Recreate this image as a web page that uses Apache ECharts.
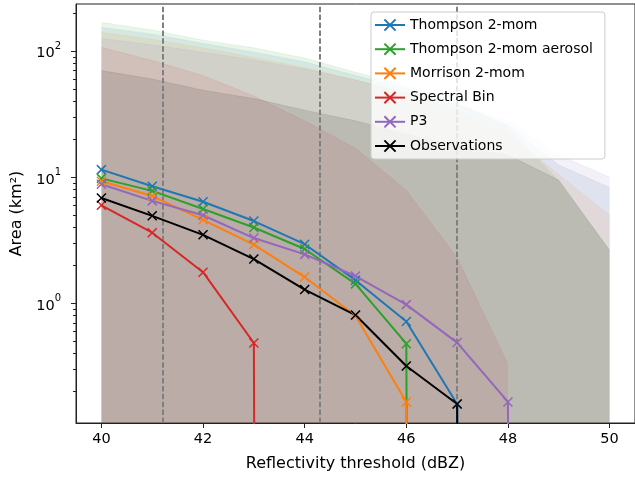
<!DOCTYPE html>
<html>
<head>
<meta charset="utf-8">
<script src="https://cdn.jsdelivr.net/npm/echarts@6/dist/echarts.min.js"></script>
<style>
  html, body { margin: 0; padding: 0; background: #fff; }
  #chart { width: 635px; height: 477px; }
</style>
</head>
<body>
<div id="chart"></div>
<script>
// Reflectivity thresholds (dBZ)
const thresholds = [40, 41, 42, 43, 44, 45, 46, 47, 48, 49, 50];
const xTicks = [40, 42, 44, 46, 48, 50];
const yMajorTicks = [1, 10, 100];
const yMinorTicks = [0.2, 0.3, 0.4, 0.5, 0.6, 0.7, 0.8, 0.9,
                     2, 3, 4, 5, 6, 7, 8, 9,
                     20, 30, 40, 50, 60, 70, 80, 90, 200];
// Vertical reference thresholds (dBZ)
const refLines = [41.2, 44.3, 47.0];

const seriesNames = ['Thompson 2-mom', 'Thompson 2-mom aerosol', 'Morrison 2-mom',
                     'Spectral Bin', 'P3', 'Observations'];
const seriesColors = ['#1f77b4', '#2ca02c', '#ff7f0e', '#d62728', '#9467bd', '#000000'];

// Mean area above threshold (km²)
const thompson        = [11.5, 8.5, 6.4, 4.5, 2.95, 1.53, 0.72, 0.16, 0, 0, 0];
const thompsonAerosol = [9.8, 7.8, 5.6, 4.0, 2.7, 1.43, 0.48, 0, 0, 0, 0];
const morrison        = [9.3, 7.1, 4.6, 2.93, 1.62, 0.8, 0.166, 0, 0, 0, 0];
const spectralBin     = [6.0, 3.64, 1.77, 0.486, 0, 0, 0, 0, 0, 0, 0];
const p3              = [8.8, 6.5, 5.0, 3.3, 2.45, 1.65, 0.98, 0.49, 0.166, 0, 0];
const observations    = [6.85, 4.95, 3.5, 2.25, 1.29, 0.81, 0.32, 0.16, 0, 0, 0];

// Upper envelope of each ensemble (km²)
const thompsonMax        = [154, 136, 115, 98, 82, 64, 50, 38, 26, 12.5, 8.3];
const thompsonAerosolMax = [169, 147, 122, 106, 88, 68, 53, 40, 25, 9.3, 2.6];
const morrisonMax        = [141, 124, 106, 89, 74, 59, 46, 34, 22, 10.5, 5.0];
const spectralBinMax     = [107, 84, 64, 44, 28, 17, 7.9, 2.3, 0.33];
const p3Max              = [126, 112, 98, 85, 72, 59, 47, 37, 28, 15, 10];
const observationsMax    = [70, 60, 49, 42, 34, 28, 22, 17.5, 15, 9.5, 2.65];

const means = [thompson, thompsonAerosol, morrison, spectralBin, p3, observations];
const envelopes = [thompsonMax, thompsonAerosolMax, morrisonMax, spectralBinMax, p3Max, observationsMax];

// Zero area cannot sit on a log axis: push it far below the visible range
// so the curve drops straight down, as a clipped log plot does.
const LOG_FLOOR = 1e-100;
const pairs = (vals) => vals.map((v, i) => [thresholds[i], v > 0 ? v : LOG_FLOOR]);

const Y_MIN = 0.113, Y_MAX = 236;
const FONT = 'DejaVu Sans';
const FILL_ALPHA = 0.1;

const series = [];

envelopes.forEach((vals, k) => {
  series.push({
    name: seriesNames[k] + ' range',
    type: 'line',
    data: pairs(vals),
    symbol: 'none',
    silent: true,
    z: 1,
    lineStyle: { width: 0.8, color: seriesColors[k], opacity: FILL_ALPHA },
    areaStyle: { color: seriesColors[k], opacity: FILL_ALPHA, origin: 'start' },
    animation: false
  });
});

means.forEach((vals, k) => {
  const s = {
    name: seriesNames[k],
    type: 'line',
    data: pairs(vals),
    symbol: 'path://M0,0L10,10M10,0L0,10',
    symbolSize: 9,
    showAllSymbol: true,
    z: 3,
    lineStyle: { width: 2, color: seriesColors[k] },
    itemStyle: { color: seriesColors[k], borderColor: seriesColors[k], borderWidth: 1.5 },
    emphasis: { disabled: true },
    animation: false
  };
  if (k === 0) {
    s.markLine = {
      silent: true,
      symbol: 'none',
      z: 2,
      label: { show: false },
      lineStyle: { color: '#808080', type: [5.5, 2.4], width: 2 },
      data: refLines.map(v => ({ xAxis: v })),
      animation: false
    };
  }
  series.push(s);
});

const supLabel = (v) => {
  const e = Math.round(Math.log10(v));
  return '{b|10}{s|' + e + '}';
};

const option = {
  backgroundColor: '#ffffff',
  animation: false,
  textStyle: { fontFamily: FONT },
  grid: {
    left: 76, right: -7, top: 4, bottom: 50,
    show: true, borderColor: '#222', borderWidth: 1, backgroundColor: 'transparent'
  },
  legend: {
    data: seriesNames,
    orient: 'vertical',
    left: 371, top: 12,
    width: 262,
    itemWidth: 30, itemHeight: 14, itemGap: 10.2,
    padding: [6, 12, 6, 3],
    backgroundColor: 'rgba(255,255,255,0.8)',
    borderColor: '#cccccc', borderWidth: 1, borderRadius: 3,
    textStyle: { fontFamily: FONT, fontSize: 14, color: '#000' },
    selectedMode: false
  },
  xAxis: {
    type: 'value',
    min: 39.5, max: 50.5,
    name: 'Reflectivity threshold (dBZ)',
    nameLocation: 'middle', nameGap: 33,
    nameTextStyle: { fontFamily: FONT, fontSize: 16, color: '#000' },
    axisLine: { show: true, onZero: false, lineStyle: { color: '#222', width: 1 } },
    axisTick: { show: true, length: 5, customValues: xTicks, lineStyle: { color: '#222' } },
    axisLabel: { customValues: xTicks, margin: 9, fontFamily: FONT, fontSize: 14.5, color: '#000' },
    splitLine: { show: false }
  },
  yAxis: [
    {
      type: 'log', logBase: 10,
      min: Y_MIN, max: Y_MAX,
      name: 'Area (km²)',
      nameLocation: 'middle', nameGap: 44, nameRotate: 90,
      nameTextStyle: { fontFamily: FONT, fontSize: 16, color: '#000' },
      axisLine: { show: true, onZero: false, lineStyle: { color: '#222', width: 1 } },
      axisTick: { show: true, length: 5, customValues: yMajorTicks, lineStyle: { color: '#222' } },
      axisLabel: {
        customValues: yMajorTicks, margin: 15, color: '#000',
        formatter: supLabel,
        rich: {
          b: { fontFamily: FONT, fontSize: 14.5, lineHeight: 20, verticalAlign: 'bottom', color: '#000' },
          s: { fontFamily: FONT, fontSize: 10, lineHeight: 12, verticalAlign: 'top', color: '#000' }
        }
      },
      splitLine: { show: false }
    },
    {
      type: 'log', logBase: 10,
      min: Y_MIN, max: Y_MAX,
      position: 'left',
      axisLine: { show: false },
      axisTick: { show: true, length: 3, customValues: yMinorTicks, lineStyle: { color: '#222' } },
      axisLabel: { show: false },
      splitLine: { show: false }
    }
  ],
  series: series
};

const chart = echarts.init(document.getElementById('chart'), null, { renderer: 'canvas' });
chart.setOption(option);
</script>
</body>
</html>
